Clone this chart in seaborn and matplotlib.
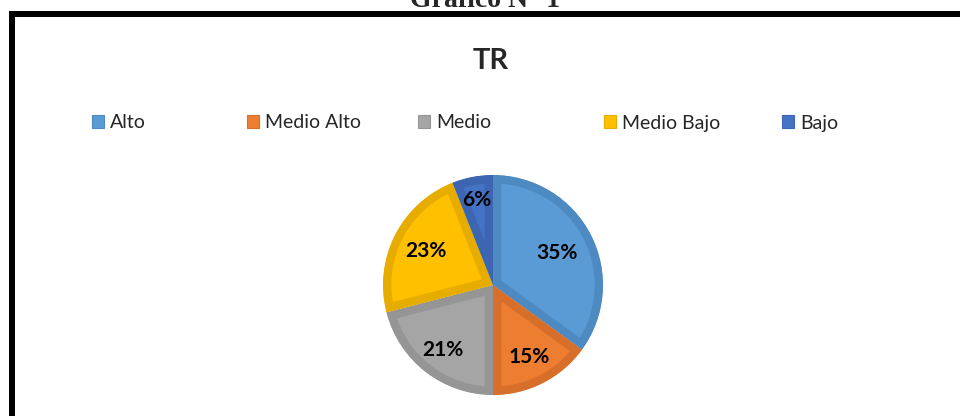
import matplotlib
matplotlib.use("Agg")
import matplotlib.pyplot as plt
import seaborn as sns
import numpy as np
from matplotlib.patches import Patch, Rectangle

# data
categories = ["Alto", "Medio Alto", "Medio", "Medio Bajo", "Bajo"]
percent = [35, 15, 21, 23, 6]
face_colors = ["#5B9BD5", "#ED7D31", "#A5A5A5", "#FFC000", "#4472C4"]
edge_colors = ["#4E8AC2", "#D76F2B", "#959595", "#E6AC00", "#3D66B2"]
chart_title = "TR"
header = "Gráfico N° 1"

sns.set_theme(style="white")
plt.rcParams['font.family'] = ['Lato', 'DejaVu Sans']

W, H = 960, 416
fig = plt.figure(figsize=(W / 100, H / 100), dpi=100)
fig.patch.set_facecolor("white")

# black frame (top and left only visible)
fig.add_artist(Rectangle((9 / W, 0), 6 / W, 1 - 11 / H, transform=fig.transFigure,
                         facecolor="black", edgecolor="none"))
fig.add_artist(Rectangle((9 / W, 1 - 16.7 / H), 1, 5.7 / H, transform=fig.transFigure,
                         facecolor="black", edgecolor="none"))

# header cut off at the top, as in the reference
fig.text(485 / W, 1 - 7 / H, header, ha="center", va="baseline", fontsize=20,
         fontweight="bold", family=["Liberation Serif", "DejaVu Serif"])

# chart title
fig.text(491 / W, 1 - 69 / H, chart_title, ha="center", va="baseline",
         fontsize=21, fontweight="bold")

# pie
cx, cy, r = 493, 285, 110
ax = fig.add_axes([(cx - r) / W, (H - cy - r) / H, 2 * r / W, 2 * r / H])
wedges, texts, autotexts = ax.pie(
    percent, colors=sns.color_palette(face_colors), startangle=90, counterclock=False,
    autopct="%1.0f%%", pctdistance=0.72, radius=1,
    wedgeprops=dict(linewidth=12, antialiased=True),
    textprops=dict(fontsize=15, fontweight="bold", color="black"))
# darker inner bevel: stroke clipped to the wedge itself
for w, ec in zip(wedges, edge_colors):
    w.set_edgecolor(ec)
    w.set_clip_on(True)
    w.set_clip_path(w)

# label distances from the centre (Excel "best fit" placement)
label_dist = [0.65, 0.73, 0.75, 0.68, 0.79]
for t, w, d in zip(autotexts, wedges, label_dist):
    mid = np.deg2rad((w.theta1 + w.theta2) / 2)
    t.set_position((d * np.cos(mid), d * np.sin(mid)))
ax.set_xlim(-1, 1)
ax.set_ylim(-1, 1)
ax.axis("off")

# legend entries, one per category at the positions of the reference
legend_x = [92, 247, 418, 604, 782]
for name, fc, ec, x in zip(categories, face_colors, edge_colors, legend_x):
    fig.legend(handles=[Patch(facecolor=fc, edgecolor=ec, linewidth=0.8, label=name)],
               loc="center left", bbox_to_anchor=(x / W, 1 - 123 / H),
               frameon=False, fontsize=14, borderpad=0, borderaxespad=0,
               handlelength=0.62, handleheight=0.62, handletextpad=0.3)

fig.savefig("out.png", dpi=100, facecolor="white")
